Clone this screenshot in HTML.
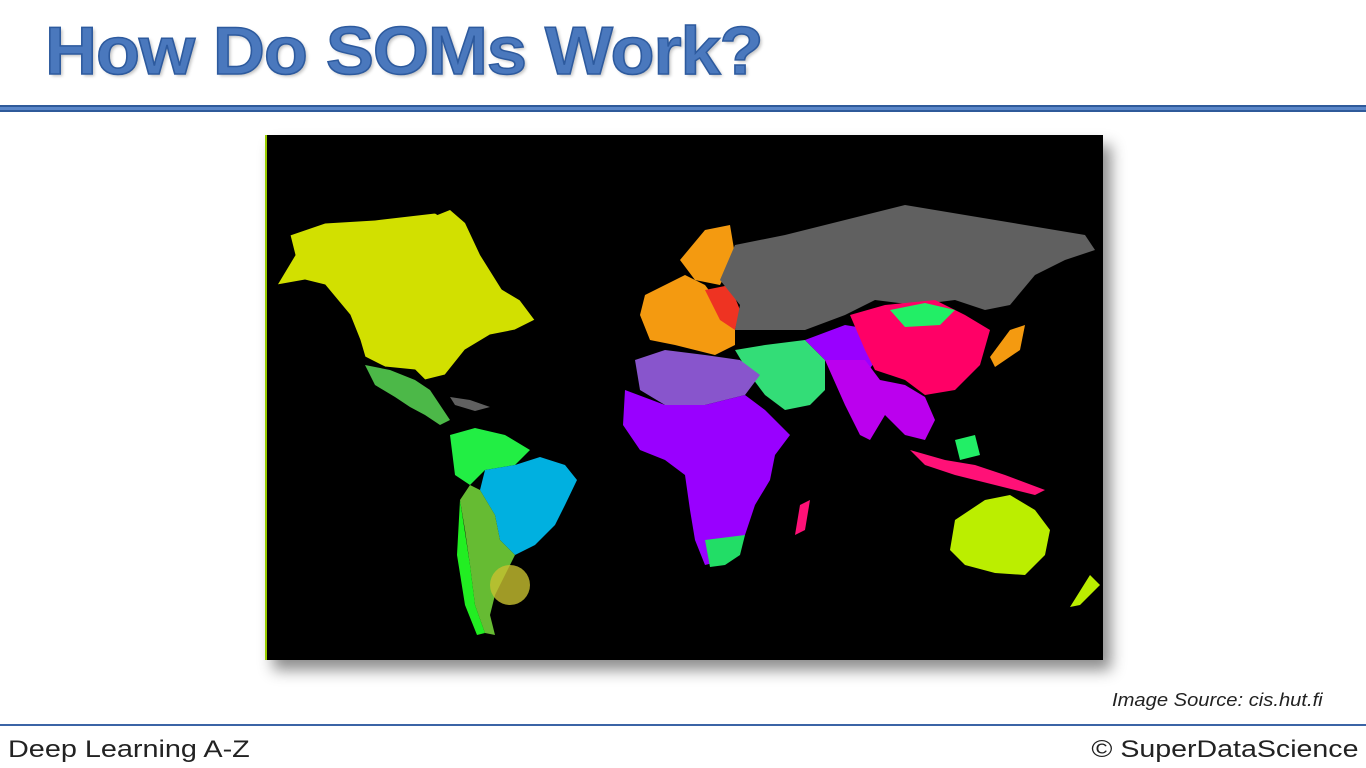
<!DOCTYPE html>
<html><head><meta charset="utf-8"><style>
html,body{margin:0;padding:0;width:1366px;height:768px;overflow:hidden;background:#fff;font-family:"Liberation Sans",sans-serif;}
#title{position:absolute;left:45px;top:12px;font-size:68px;font-weight:bold;color:#4a78bd;-webkit-text-stroke:1.5px #2d5a9e;white-space:nowrap;transform-origin:0 0;transform:scaleX(1.06);text-shadow:2px 2px 3px rgba(0,0,0,.25);letter-spacing:-1px}
#hline{position:absolute;left:0;top:105px;width:1366px;height:7px;background:#5b87c9;border-top:2px solid #2f5a9a;border-bottom:2px solid #2f5a9a;box-sizing:border-box}
#map{position:absolute;left:265px;top:135px;width:838px;height:525px;background:#000;box-shadow:8px 10px 14px rgba(0,0,0,.45)}
#src{position:absolute;left:1112px;top:690px;font-size:18px;font-style:italic;color:#222;transform-origin:0 0;transform:scaleX(1.12);white-space:nowrap}
#fline{position:absolute;left:0;top:724px;width:1366px;height:2px;background:#3b64a6}
#fl{position:absolute;left:8px;top:736px;font-size:24px;color:#222;transform-origin:0 0;transform:scaleX(1.2);white-space:nowrap}
#fr{position:absolute;right:8px;top:736px;font-size:24px;color:#222;transform-origin:100% 0;transform:scaleX(1.19);white-space:nowrap}
</style></head><body>
<div id="title">How Do SOMs Work?</div>
<div id="hline"></div>
<div id="map">
<svg width="838" height="525" viewBox="0 0 838 525">
<rect x="0" y="0" width="2" height="525" fill="#9c0" />
<polygon fill="#d2e000" stroke="#000" points="25,100 60,88 110,85 170,78 190,90 200,120 230,150 255,165 270,185 250,195 225,200 200,215 180,240 160,245 150,235 120,232 100,222 95,205 85,180 60,150 40,145 12,150 30,120"/>
<polygon fill="#d2e000" points="160,85 185,75 200,88 215,120 240,160 230,168 200,130"/>
<polygon fill="#4cb848" points="100,230 125,235 150,245 165,255 175,270 185,285 175,290 160,280 145,272 130,262 110,250"/>
<polygon fill="#606060" points="185,262 205,265 225,272 210,276 190,270"/>
<polygon fill="#22ee44" points="185,300 210,293 240,300 265,315 250,330 220,335 205,350 190,340"/>
<polygon fill="#00b0e0" points="220,335 250,330 275,322 300,330 312,345 300,370 290,390 270,410 250,420 235,405 230,380 215,355"/>
<polygon fill="#66bb33" points="205,350 215,355 230,380 235,405 250,420 240,440 230,460 225,480 230,500 220,498 210,470 205,430 200,395 195,365"/>
<polygon fill="#22ee22" points="195,365 205,430 210,470 220,498 212,500 200,470 192,420"/>
<polygon fill="#f49a10" points="380,160 400,150 420,140 440,150 455,170 470,185 470,210 450,220 430,215 410,210 385,205 375,180"/>
<polygon fill="#ee3322" points="440,155 465,150 475,175 470,195 455,185"/>
<polygon fill="#f49a10" points="415,125 440,95 465,90 470,120 455,150 430,145"/>
<polygon fill="#606060" points="455,145 470,110 520,100 580,85 640,70 700,80 760,90 820,100 830,115 800,125 770,140 745,170 720,175 690,165 650,170 610,165 580,180 540,195 500,195 470,195 475,170"/>
<polygon fill="#33dd77" points="470,215 500,210 540,205 560,225 560,255 545,270 520,275 500,260 485,240"/>
<polygon fill="#9900ff" points="540,205 580,190 610,195 615,220 600,240 575,245 560,225"/>
<polygon fill="#ff0066" points="585,180 620,170 670,165 700,180 725,195 715,230 690,255 660,260 640,245 610,235 600,215"/>
<polygon fill="#22ee66" points="625,175 660,168 690,175 675,190 640,192"/>
<polygon fill="#f49a10" points="745,195 760,190 755,215 730,232 725,222"/>
<polygon fill="#bb00ee" points="560,225 600,225 615,245 640,250 660,262 670,285 660,305 640,300 620,280 605,305 595,300 580,270"/>
<polygon fill="#ff1177" points="645,315 680,325 710,330 740,340 780,355 770,360 730,350 690,340 660,330"/>
<polygon fill="#22ee66" points="690,305 710,300 715,320 695,325"/>
<polygon fill="#8855cc" points="370,225 400,215 440,220 475,225 495,240 480,260 440,270 400,270 375,255"/>
<polygon fill="#9900ff" points="360,255 400,270 440,270 480,260 500,275 525,300 510,320 505,345 490,370 480,400 460,425 440,430 430,405 425,375 420,340 400,325 375,315 358,290"/>
<polygon fill="#22dd66" points="440,405 480,400 475,420 460,430 445,432"/>
<polygon fill="#ff1177" points="535,370 545,365 540,395 530,400"/>
<polygon fill="#bbee00" points="690,385 720,365 745,360 770,375 785,395 780,420 760,440 730,438 700,430 685,415"/>
<polygon fill="#bbee00" points="825,440 835,450 815,470 805,472"/>
<circle cx="245" cy="450" r="20" fill="#c8c030" opacity=".8"/>
</svg>
</div>
<div id="src">Image Source: cis.hut.fi</div>
<div id="fline"></div>
<div id="fl">Deep Learning A-Z</div>
<div id="fr">© SuperDataScience</div>
</body></html>
